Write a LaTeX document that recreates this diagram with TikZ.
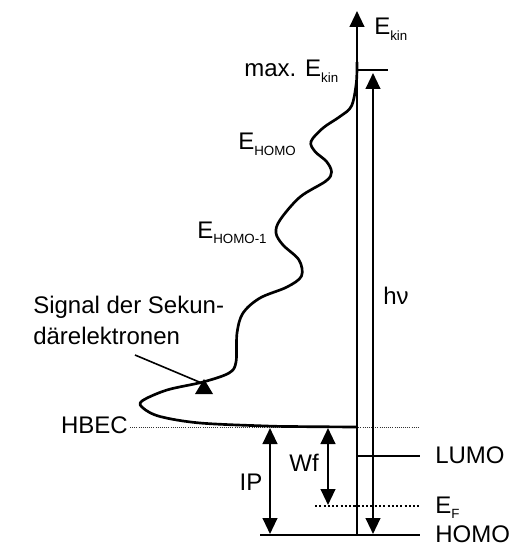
\documentclass[tikz,border=0pt]{standalone}
\usepackage{fontspec}
\setmainfont{Liberation Sans}
\usetikzlibrary{arrows.meta}
\newlength{\LineWidth}
\newlength{\CurveWidth}
\setlength{\LineWidth}{1.6pt}
\setlength{\CurveWidth}{2pt}
\newcommand{\lowsub}[1]{\raisebox{-4pt}{\fontsize{10}{10}\selectfont #1}}
\tikzset{
  level line/.style={line width=\LineWidth},
  level arrow/.style={line width=\LineWidth, <->},
  guide line/.style={line width=0.7pt, dash pattern=on 0.7pt off 0.9pt, black!80},
  fermi line/.style={line width=1.6pt, dash pattern=on 1.6pt off 1.6pt},
  label text/.style={inner sep=0pt},
}

\begin{document}
\begin{tikzpicture}[
  x=0.75pt, y=-0.75pt,
  >={Triangle[length=12pt,width=11pt]},
  font=\fontsize{18}{23}\selectfont
]
  \useasboundingbox (0,0) rectangle (516,545);

  \coordinate (axis bottom) at (357,535);
  \coordinate (axis top) at (357,11);
  \coordinate (max left) at (357,70);
  \coordinate (max right) at (388,70);
  \coordinate (hnu bottom) at (373,534);
  \coordinate (hnu top) at (373,73);
  \coordinate (hbec start) at (130,427);
  \coordinate (hbec end) at (420,427);
  \coordinate (lumo left) at (357,456);
  \coordinate (lumo right) at (420,456);
  \coordinate (ef left) at (315,506);
  \coordinate (ef right) at (419,506);
  \coordinate (homo left) at (260,535);
  \coordinate (homo right) at (420,535);
  \coordinate (ip top) at (270,428);
  \coordinate (ip bottom) at (270,534);
  \coordinate (wf top) at (328,428);
  \coordinate (wf bottom) at (328,505);
  \coordinate (marker) at (204,384);
  \coordinate (pointer) at (135,355);

  \node[label text, anchor=base west] (ekin) at (374,35) {E\lowsub{kin}};
  \node[label text, anchor=base west] (maxekin) at (244,77) {max. E\lowsub{kin}};
  \node[label text, anchor=base west] (ehomo) at (238,150) {E\lowsub{HOMO}};
  \node[label text, anchor=base west] (ehomo1) at (197,238) {E\lowsub{HOMO-1}};
  \node[label text, anchor=north west, align=left] (signal) at (33,296)
    {Signal der Sekun-\\därelektronen};
  \node[label text, anchor=base east] (hbec) at (128,433) {HBEC};
  \node[label text] (ip) at (251,482) {IP};
  \node[label text] (wf) at (304,463) {Wf};
  \node[label text] (hnu) at (396,296) {hν};
  \node[label text, anchor=base west] (lumo) at (435,463) {LUMO};
  \node[label text, anchor=base west] (ef) at (435,513) {E\lowsub{F}};
  \node[label text, anchor=base west] (homo) at (435,542) {HOMO};

  \draw[guide line] (hbec start) -- (hbec end);
  \draw[fermi line] (ef left) -- (ef right);
  \draw[level line, ->] (axis bottom) -- (axis top);
  \draw[level line] (max left) -- (max right);
  \draw[level arrow] (hnu bottom) -- (hnu top);
  \draw[level line] (lumo left) -- (lumo right);
  \draw[level line] (homo left) -- (homo right);
  \draw[level arrow] (ip top) -- (ip bottom);
  \draw[level arrow] (wf top) -- (wf bottom);

  % spectrum
  \draw[line width=\CurveWidth, line join=round] plot[smooth, tension=0.55] coordinates {
    (357,427) (300,426.6) (266,426) (200,423) (160,416.5) (143,408)
    (142,401) (167,390) (203,382) (229,373) (236,362) (237,333)
    (243,313) (260,298) (287,287) (301.5,276) (299,260) (283,245)
    (276,233) (280,220) (300,197) (326,181) (331.5,172) (326.5,161.5)
    (315,151.5) (311,141.5) (323,128) (340,116.5) (351.5,106) (356.3,83)
    (357,62)};
  \fill (195,394) -- (213,394) -- (204,379) -- cycle;
  \draw[line width=1.2pt] (pointer) -- (marker);
\end{tikzpicture}
\end{document}
